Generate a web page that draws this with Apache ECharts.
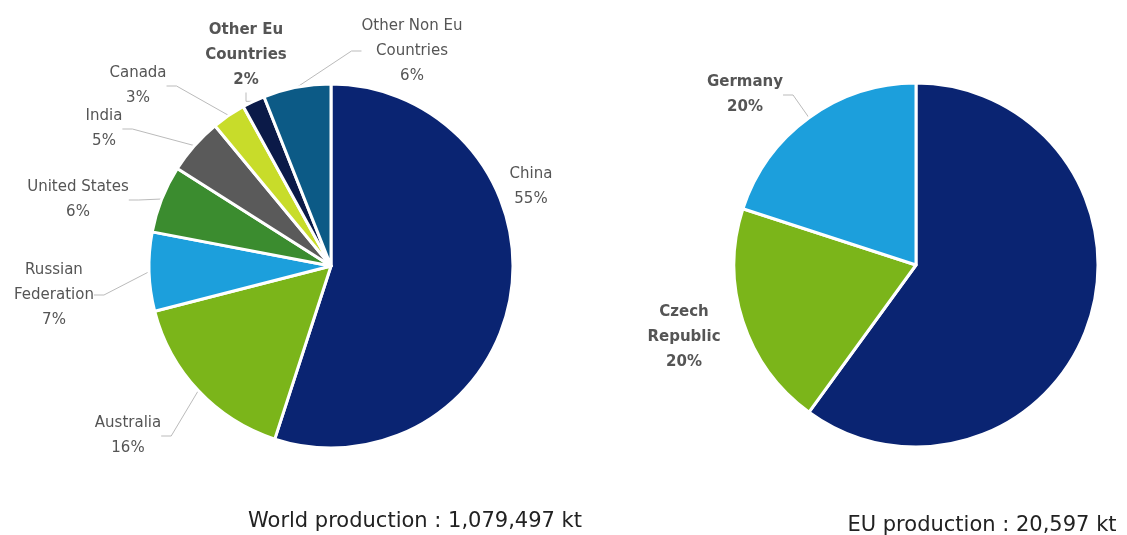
<!DOCTYPE html>
<html>
<head>
<meta charset="utf-8">
<script src="https://cdn.jsdelivr.net/npm/echarts@6/dist/echarts.min.js"></script>
<style>
  html, body { margin: 0; padding: 0; background: #fff; }
  #chart { width: 1127px; height: 535px; }
</style>
</head>
<body>
<div id="chart"></div>
<script>
// world production share (%)
const worldNames = ['China', 'Australia', 'Russian\nFederation', 'United States', 'India', 'Canada', 'Other Eu\nCountries', 'Other Non Eu\nCountries'];
const worldValues = [55, 16, 7, 6, 5, 3, 2, 6];
// EU production share (%)
const euNames = ['Poland', 'Czech\nRepublic', 'Germany'];
const euValues = [60, 20, 20];

const worldTotal = 'World production : 1,079,497 kt';
const euTotal = 'EU production : 20,597 kt';

const worldColors = ['#0a2472', '#7bb51a', '#1c9fdc', '#3b8c2f', '#5a5a5a', '#c8dc2a', '#0b1a48', '#0c5a86'];
const euColors = ['#0a2472', '#7bb51a', '#1c9fdc'];

// label anchor points (text block centre)
const worldLabelPos = [[531, 187], [128, 436], [54, 295], [78, 200], [104, 129], [138, 86], [246, 55], [412, 51]];
const worldBold = [false, false, false, false, false, false, true, false];
const worldLine = [false, true, true, true, true, true, true, true];
const euLabelPos = [[1067, 129], [684, 337], [745, 95]];
const euLine = [false, false, true];

const myChart = echarts.init(document.getElementById('chart'));

const makeData = (names, values, colors, bold, line) =>
    names.map((n, i) => ({
        name: n,
        value: values[i],
        itemStyle: { color: colors[i] },
        label: { fontWeight: bold[i] ? 'bold' : 'normal' },
        labelLine: { show: line[i] }
    }));

const baseLabel = {
    show: true,
    position: 'outside',
    formatter: '{b}\n{c}%',
    color: '#555',
    fontFamily: 'DejaVu Sans',
    fontSize: 15,
    lineHeight: 25,
    align: 'center'
};

const totalStyle = { fontFamily: 'DejaVu Sans', fontWeight: 'normal', fontSize: 21, color: '#222' };

myChart.setOption({
    backgroundColor: '#fff',
    animation: false,
    title: [
        { text: worldTotal, left: 410, top: 506, textAlign: 'center', textStyle: totalStyle },
        { text: euTotal, left: 977, top: 510, textAlign: 'center', textStyle: totalStyle }
    ],
    series: [
        {
            type: 'pie',
            center: [331, 266],
            radius: 182,
            startAngle: 90,
            clockwise: true,
            itemStyle: { borderColor: '#fff', borderWidth: 3 },
            label: baseLabel,
            labelLine: { lineStyle: { color: '#bbb', width: 1 }, length: 10, length2: 10 },
            labelLayout: p => ({
                x: worldLabelPos[p.dataIndex][0],
                y: worldLabelPos[p.dataIndex][1],
                align: 'center',
                verticalAlign: 'middle'
            }),
            data: makeData(worldNames, worldValues, worldColors, worldBold, worldLine)
        },
        {
            type: 'pie',
            center: [916, 265],
            radius: 182,
            startAngle: 90,
            clockwise: true,
            itemStyle: { borderColor: '#fff', borderWidth: 3 },
            label: Object.assign({}, baseLabel, { fontWeight: 'bold' }),
            labelLine: { lineStyle: { color: '#bbb', width: 1 }, length: 10, length2: 10 },
            labelLayout: p => ({
                x: euLabelPos[p.dataIndex][0],
                y: euLabelPos[p.dataIndex][1],
                align: 'center',
                verticalAlign: 'middle'
            }),
            data: makeData(euNames, euValues, euColors, [true, true, true], euLine)
        }
    ]
});
</script>
</body>
</html>
